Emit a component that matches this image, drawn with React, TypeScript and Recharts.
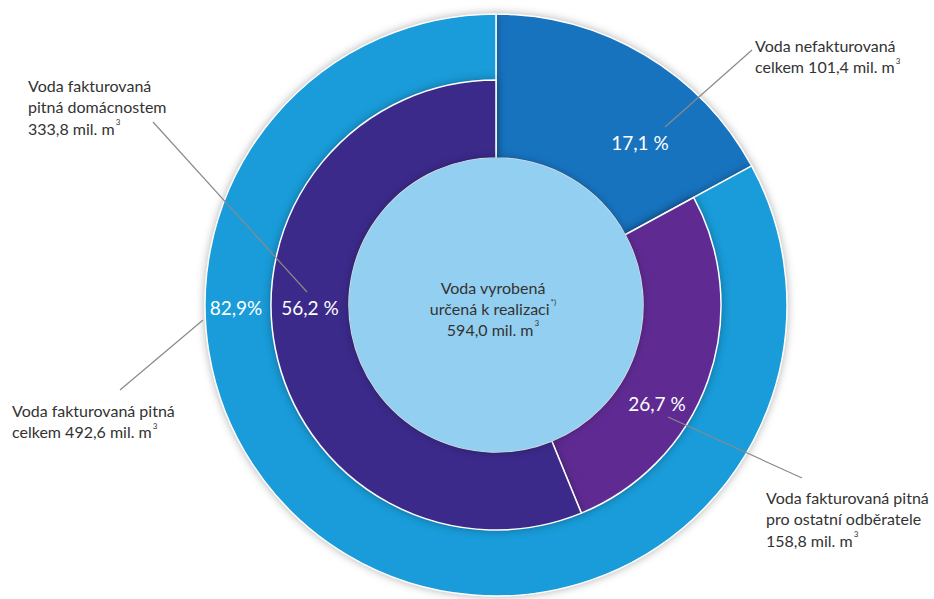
import React from "react";
import { PieChart, Pie, Cell } from "recharts";

// objem vody v mil. m3 (inner split)
const segmentKeys = ["nefakturovana", "ostatni", "domacnosti"];
const segmentVolumes = [101.4, 158.8, 333.8];
const segmentShares = ["17,1 %", "26,7 %", "56,2 %"];

// outer split: nefakturovaná vs. fakturovaná celkem
const outerKeys = ["nefakturovana", "fakturovana"];
const outerVolumes = [101.4, 492.6];
const outerShares = ["17,1 %", "82,9%"];

const totalVolume = 594.0;

const fmt = (v: number) => v.toFixed(1).replace(".", ",");

const calloutTexts: Record<string, string[]> = {
  nefakturovana: ["Voda nefakturovaná", `celkem ${fmt(outerVolumes[0])} mil. m³`],
  fakturovana: ["Voda fakturovaná pitná", `celkem ${fmt(outerVolumes[1])} mil. m³`],
  ostatni: ["Voda fakturovaná pitná", "pro ostatní odběratele", `${fmt(segmentVolumes[1])} mil. m³`],
  domacnosti: ["Voda fakturovaná", "pitná domácnostem", `${fmt(segmentVolumes[2])} mil. m³`],
};

const outerData = outerKeys.map((k, i) => ({ key: k, value: outerVolumes[i], share: outerShares[i] }));
const innerData = segmentKeys.map((k, i) => ({ key: k, value: segmentVolumes[i], share: segmentShares[i] }));
const centerData = [{ key: "total", value: totalVolume }];

const COLORS: Record<string, string> = {
  nefakturovana: "#1873bf",
  fakturovana: "#199cd9",
  ostatni: "#5f2b93",
  domacnosti: "#3b2a8a",
};

// label placement, offsets from the pie centre
const layout: Record<string, { pct: [number, number]; line: [number, number, number, number]; text: [number, number] }> = {
  nefakturovana: { pct: [144, -163], line: [169, -178, 256, -255], text: [259, -260] },
  fakturovana: { pct: [-260, 2], line: [-293, 15, -376, 85], text: [-484, 105] },
  ostatni: { pct: [161, 98], line: [172, 112, 306, 173], text: [270, 192] },
  domacnosti: { pct: [-186, 2], line: [-189, -13, -343, -183], text: [-468, -220] },
};

const FONT = "Lato, 'Open Sans', sans-serif";
const LINE_H = 21.5;

function TextLine({ x, y, text, anchor = "start" }: { x: number; y: number; text: string; anchor?: string }) {
  const sup = text.endsWith("³");
  const body = sup ? text.slice(0, -1) : text;
  return (
    <text x={x} y={y} dominantBaseline="central" textAnchor={anchor as any} fontFamily={FONT} fontSize={16} fill="#333">
      {body}
      {sup && (
        <tspan fontSize={8} dy={-6} dx={1}>
          3
        </tspan>
      )}
    </text>
  );
}

function renderCallout(props: any) {
  const { cx, cy, payload } = props;
  const key = payload?.key;
  const cfg = layout[key];
  if (!cfg) return null;
  const lines = calloutTexts[key];
  return (
    <g key={`lbl-${key}`}>
      <line
        x1={cx + cfg.line[0]}
        y1={cy + cfg.line[1]}
        x2={cx + cfg.line[2]}
        y2={cy + cfg.line[3]}
        stroke="#8a8a8a"
        strokeWidth={1.2}
      />
      <text
        x={cx + cfg.pct[0]}
        y={cy + cfg.pct[1]}
        textAnchor="middle"
        dominantBaseline="central"
        fontFamily={FONT}
        fontSize={19}
        fill="#fff"
      >
        {payload.share}
      </text>
      {lines.map((t, i) => (
        <TextLine key={i} x={cx + cfg.text[0]} y={cy + cfg.text[1] + i * LINE_H} text={t} />
      ))}
    </g>
  );
}

function renderInnerLabel(props: any) {
  // the unbilled wedge is labelled by the outer ring
  if (props.payload?.key === "nefakturovana") return null;
  return renderCallout(props);
}

function renderCenterLabel(props: any) {
  const { cx, cy } = props;
  return (
    <g key="center">
      <TextLine x={cx - 3} y={cy - 18} text="Voda vyrobená" anchor="middle" />
      <text x={cx - 3} y={cy + 3} textAnchor="middle" dominantBaseline="central" fontFamily={FONT} fontSize={16} fill="#333">
        určená k realizaci
        <tspan fontSize={8} dy={-6} dx={1}>
          *)
        </tspan>
      </text>
      <TextLine x={cx - 3} y={cy + 24} text={`${fmt(totalVolume)} mil. m³`} anchor="middle" />
    </g>
  );
}

export default function App() {
  const cx = 496;
  const cy = 305;
  return (
    <div style={{ position: "absolute", left: 0, top: 0, width: 934, height: 599, background: "#fff" }}>
      <style>{`.recharts-sector { filter: drop-shadow(0px 0px 4px rgba(0,0,0,0.3)); }`}</style>
      <PieChart width={934} height={599} margin={{ top: 0, right: 0, bottom: 0, left: 0 }}>
        <Pie
          data={outerData}
          dataKey="value"
          nameKey="key"
          cx={cx}
          cy={cy}
          innerRadius={147}
          outerRadius={291}
          startAngle={90}
          endAngle={-270}
          stroke="#fff"
          strokeWidth={1.5}
          label={renderCallout}
          labelLine={false}
          isAnimationActive={false}
        >
          {outerData.map((d) => (
            <Cell key={d.key} fill={COLORS[d.key]} />
          ))}
        </Pie>
        <Pie
          data={innerData}
          dataKey="value"
          nameKey="key"
          cx={cx}
          cy={cy}
          innerRadius={147}
          outerRadius={225}
          startAngle={90}
          endAngle={-270}
          strokeWidth={1.5}
          label={renderInnerLabel}
          labelLine={false}
          isAnimationActive={false}
        >
          {innerData.map((d) =>
            d.key === "nefakturovana" ? (
              <Cell key={d.key} fill="none" stroke="none" />
            ) : (
              <Cell key={d.key} fill={COLORS[d.key]} stroke="#fff" />
            )
          )}
        </Pie>
        <Pie
          data={centerData}
          dataKey="value"
          cx={cx}
          cy={cy}
          innerRadius={0}
          outerRadius={147}
          startAngle={90}
          endAngle={-270}
          stroke="none"
          label={renderCenterLabel}
          labelLine={false}
          isAnimationActive={false}
        >
          <Cell fill="#93cff0" />
        </Pie>
      </PieChart>
    </div>
  );
}
